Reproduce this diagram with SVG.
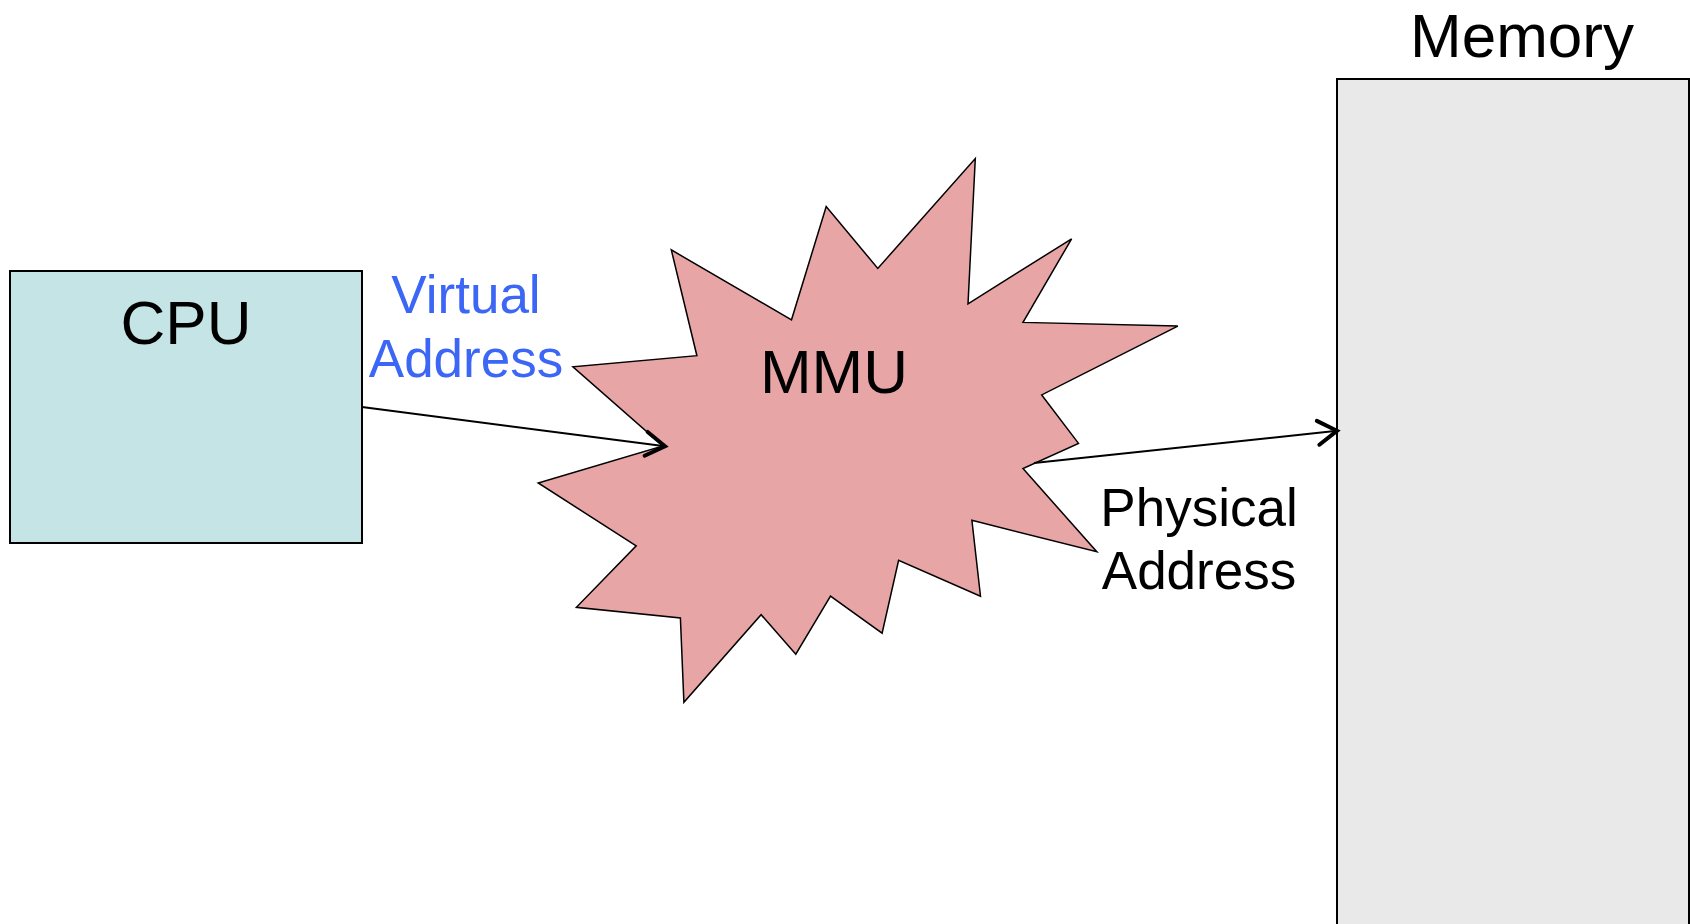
<svg xmlns="http://www.w3.org/2000/svg" width="1690" height="924" viewBox="0 0 1690 924">
<style>
.lbl{font-family:"Liberation Sans",Arial,sans-serif;fill:#000;text-anchor:middle}
.big{font-size:62px}
.mid{font-size:53px}
.blue{fill:#3b66f6}
.box{stroke:#000;stroke-width:2}
.conn{stroke:#000;stroke-width:2;fill:none}
</style>
<defs>
<marker id="arr" markerUnits="userSpaceOnUse" markerWidth="40" markerHeight="40" viewBox="-30 -20 40 40" refX="-2" refY="0" orient="auto" overflow="visible">
<path d="M -19 -12 L 0 0 L -19 12" fill="none" stroke="#000" stroke-width="4" stroke-linecap="round" stroke-linejoin="miter"/>
</marker>
</defs>
<rect width="1690" height="924" fill="#fff"/>
<g id="memory">
<rect class="box" x="1337" y="79" width="352" height="860" fill="#e9e9e9"/>
<text class="lbl big" x="1522" y="57">Memory</text>
</g>
<g id="cpu">
<rect class="box" x="10" y="271" width="352" height="272" fill="#c4e4e6"/>
<text class="lbl big" x="186" y="344">CPU</text>
</g>
<g id="mmu">
<polygon points="975.3,158.5 968,303.9 1071.6,238.8 1023,322.4 1177.8,326.1 1041.7,394.9 1078.5,443.4 1023,468.5 1096.8,551.8 971.9,520.3 980.5,596.2 898.6,560.3 882.1,633.2 830.5,596.2 795.8,654.2 761.1,614.7 683.9,702.3 680.4,618 576.4,607.3 636.2,545.8 538.2,483 663,446 572.9,366.8 696.9,355.7 671.3,249.9 791.5,319.8 826.2,206.6 877.8,268.4" fill="#e8a5a6" stroke="#000" stroke-width="1.5" stroke-linejoin="miter"/>
<text class="lbl big" x="834" y="393">MMU</text>
</g>
<g id="connectors">
<line class="conn" x1="362" y1="407" x2="663" y2="446" marker-end="url(#arr)"/>
<line class="conn" x1="1034" y1="463" x2="1335" y2="431" marker-end="url(#arr)"/>
</g>
<g id="labels">
<text class="lbl mid blue" x="466" y="313">Virtual</text>
<text class="lbl mid blue" x="466" y="377">Address</text>
<text class="lbl mid" x="1199" y="526">Physical</text>
<text class="lbl mid" x="1199" y="589">Address</text>
</g>
</svg>
